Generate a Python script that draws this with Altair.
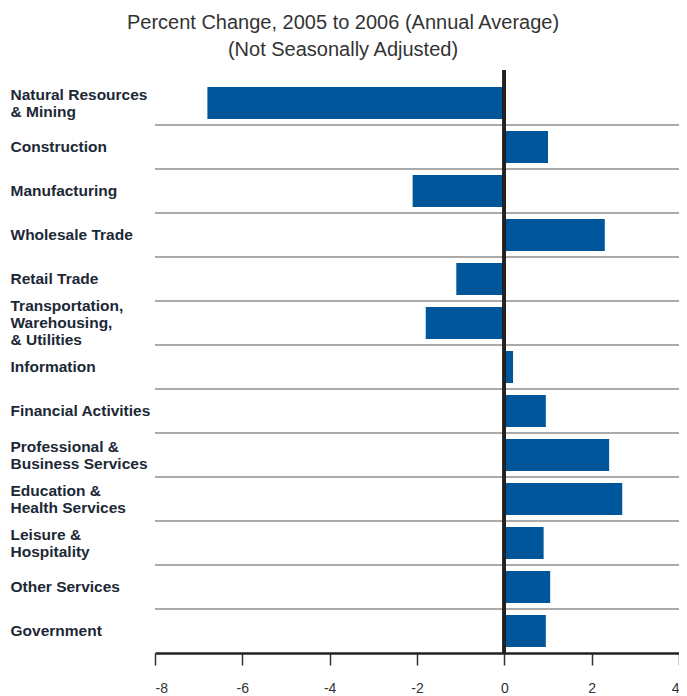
import altair as alt
import pandas as pd

categories = [
    "Natural Resources|& Mining",
    "Construction",
    "Manufacturing",
    "Wholesale Trade",
    "Retail Trade",
    "Transportation,|Warehousing,|& Utilities",
    "Information",
    "Financial Activities",
    "Professional &|Business Services",
    "Education &|Health Services",
    "Leisure &|Hospitality",
    "Other Services",
    "Government",
]
values = [-6.8, 1.0, -2.1, 2.3, -1.1, -1.8, 0.2, 0.95, 2.4, 2.7, 0.9, 1.05, 0.95]
x_ticks = [-8, -6, -4, -2, 0, 2, 4]
title_lines = ["Percent Change, 2005 to 2006 (Annual Average)", "(Not Seasonally Adjusted)"]

df = pd.DataFrame({"cat": categories, "val": values})
grid_df = pd.DataFrame({"cat": categories[1:]})

y_scale = alt.Scale(domain=categories, paddingInner=0, paddingOuter=0)
x_scale = alt.Scale(domain=[x_ticks[0], x_ticks[-1]], nice=False, zero=False)

LH = 17
y_axis = alt.Axis(
    domain=False,
    ticks=False,
    tickSize=0,
    grid=False,
    labelAlign="left",
    labelBaseline="middle",
    labelPadding=145,
    labelFont="Liberation Sans",
    labelFontWeight="bold",
    labelFontSize=15.5,
    labelColor="#1c2836",
    labelLineHeight=LH,
    labelExpr="split(datum.label, '|')",
    labelLimit=0,
    labelOffset={
        "condition": [
            {"test": "length(split(datum.label, '|')) == 2", "value": -LH / 2},
            {"test": "length(split(datum.label, '|')) == 3", "value": -LH},
        ],
        "value": 0,
    },
)

bars = alt.Chart(df).mark_bar(size=32, color="#00569a").encode(
    x=alt.X(
        "val:Q",
        scale=x_scale,
        title=None,
        axis=alt.Axis(
            values=x_ticks,
            grid=False,
            domainColor="#222222",
            domainWidth=2.5,
            tickColor="#333333",
            tickWidth=1.5,
            tickSize=12,
            labelPadding=16,
            labelFont="Liberation Sans",
            labelFontSize=14,
            labelColor="#333333",
            labelExpr="datum.value",
        ),
    ),
    y=alt.Y("cat:N", scale=y_scale, sort=categories, title=None, axis=y_axis),
)

grid = alt.Chart(grid_df).mark_rule(color="#aaaaaa", strokeWidth=2).encode(
    y=alt.Y("cat:N", scale=y_scale, sort=categories, bandPosition=0, title=None, axis=y_axis)
)

zero = alt.Chart(df).mark_rule(color="#222222", strokeWidth=3).encode(
    x=alt.datum(0, scale=x_scale),
    y=alt.value(-11),
    y2=alt.value(572),
)

chart = alt.layer(bars, grid, zero).properties(
    width=524,
    height=572,
    background="white",
    autosize=alt.AutoSizeParams(type="none"),
    padding={"left": 147, "top": 73, "right": 0, "bottom": 41},
    title=alt.TitleParams(
        text=title_lines,
        font="Liberation Sans",
        fontSize=20,
        fontWeight="normal",
        color="#333333",
        lineHeight=27,
        anchor="middle",
        frame="group",
        dx=-74,
        offset=9,
    ),
).configure_view(strokeWidth=0)

chart.save("out.html", embed_options={"renderer": "svg", "actions": False})
